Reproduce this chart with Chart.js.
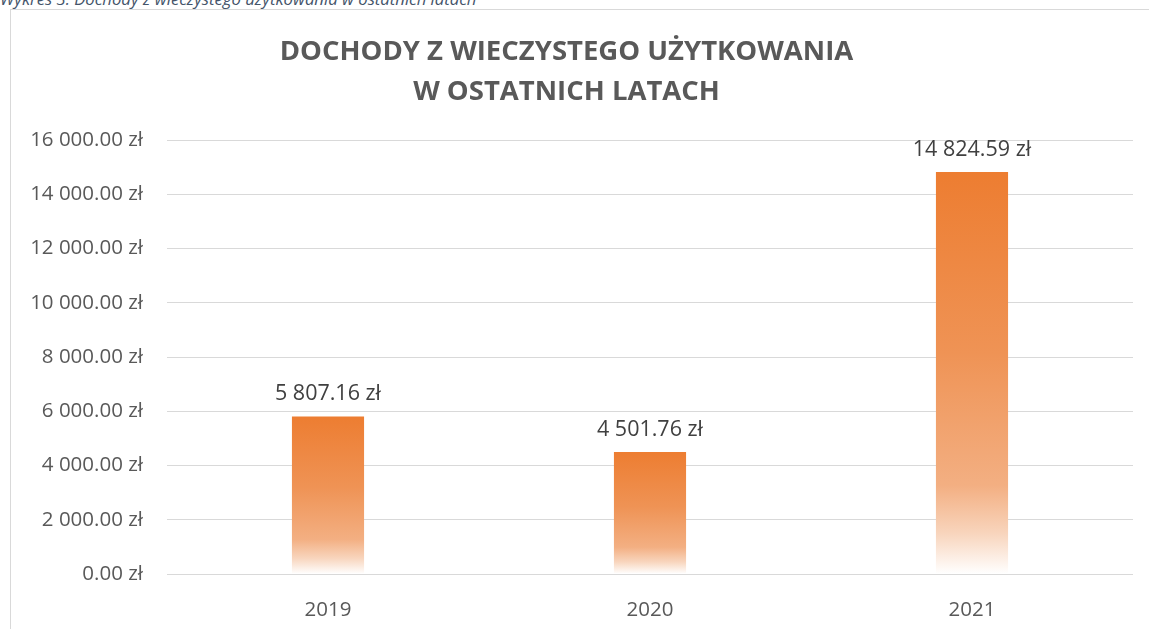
<!DOCTYPE html>
<html>
<head>
<meta charset="utf-8">
<script src="https://cdn.jsdelivr.net/npm/chart.js@4/dist/chart.umd.min.js"></script>
<style>
  html, body { margin: 0; padding: 0; background: #ffffff; overflow: hidden; }
  #wrap { position: relative; width: 1149px; height: 629px; }
  #frame { position: absolute; left: 10px; top: 9px; width: 1300px; height: 800px; border: 1px solid #d9d9d9; box-sizing: border-box; }
  #caption { position: absolute; left: 0px; top: -11.5px; font-family: "Open Sans", sans-serif; font-style: italic; font-size: 16.7px; line-height: 20px; color: #44546A; white-space: nowrap; }
  canvas { position: absolute; left: 0; top: 0; }
</style>
</head>
<body>
<div id="wrap">
  <div id="frame"></div>
  <div id="caption">Wykres 3. Dochody z wieczystego użytkowania w ostatnich latach</div>
  <canvas id="c" width="1149" height="629"></canvas>
</div>
<script>
const categories = ['2019', '2020', '2021'];
const incomeValues = [5807.16, 4501.76, 14824.59];
const titleLines = ['DOCHODY Z WIECZYSTEGO UŻYTKOWANIA', 'W OSTATNICH LATACH'];
const yMin = 0, yMax = 16000, yStep = 2000;

function fmtZl(v) {
  const parts = Number(v).toFixed(2).split('.');
  parts[0] = parts[0].replace(/\B(?=(\d{3})+(?!\d))/g, ' ');
  return parts[0] + '.' + parts[1] + ' zł';
}

const FONT = '"Open Sans", sans-serif';

function barGradient(ctx) {
  const chart = ctx.chart;
  const area = chart.chartArea;
  if (!area) return '#ED7D31';
  const yScale = chart.scales.y;
  const v = ctx.raw;
  const top = yScale.getPixelForValue(v);
  const bottom = yScale.getPixelForValue(0);
  const g = chart.ctx.createLinearGradient(0, top, 0, bottom);
  g.addColorStop(0, '#ED7D31');
  g.addColorStop(0.45, '#EF9355');
  g.addColorStop(0.78, '#F3AF82');
  g.addColorStop(0.9, '#F8D5BD');
  g.addColorStop(1, '#FFFFFF');
  return g;
}

const dataLabelPlugin = {
  id: 'dataLabels',
  afterDatasetsDraw(chart) {
    const c = chart.ctx;
    const meta = chart.getDatasetMeta(0);
    c.save();
    c.font = '21.5px ' + FONT;
    c.fillStyle = '#404040';
    c.textAlign = 'center';
    c.textBaseline = 'alphabetic';
    meta.data.forEach((el, i) => {
      c.fillText(fmtZl(incomeValues[i]), el.x, el.y - 16);
    });
    c.restore();
  }
};

new Chart(document.getElementById('c'), {
  type: 'bar',
  data: {
    labels: categories,
    datasets: [{
      data: incomeValues,
      backgroundColor: barGradient,
      borderWidth: 0,
      categoryPercentage: 1,
      barPercentage: 0.224
    }]
  },
  options: {
    responsive: false,
    animation: false,
    devicePixelRatio: 1,
    layout: { padding: { top: 0, right: 16, bottom: 0, left: 0 } },
    plugins: {
      legend: { display: false },
      tooltip: { enabled: false },
      title: {
        display: true,
        text: titleLines,
        color: '#595959',
        font: { family: FONT, size: 27.5, weight: 'bold', lineHeight: '40px' },
        padding: { top: 32.5, bottom: 27.5 }
      }
    },
    scales: {
      x: {
        grid: { display: false },
        border: { display: false },
        ticks: { color: '#595959', font: { family: FONT, size: 20.5 }, padding: 16 },
        afterFit(scale) { scale.height = 55; }
      },
      y: {
        min: yMin, max: yMax,
        grid: { color: '#d9d9d9', lineWidth: 1, drawTicks: false },
        border: { display: false },
        ticks: {
          stepSize: yStep,
          color: '#595959',
          font: { family: FONT, size: 20.5 },
          padding: 24,
          callback: (v) => fmtZl(v)
        },
        afterFit(scale) { scale.width = 167; }
      }
    }
  },
  plugins: [dataLabelPlugin]
});
</script>
</body>
</html>
